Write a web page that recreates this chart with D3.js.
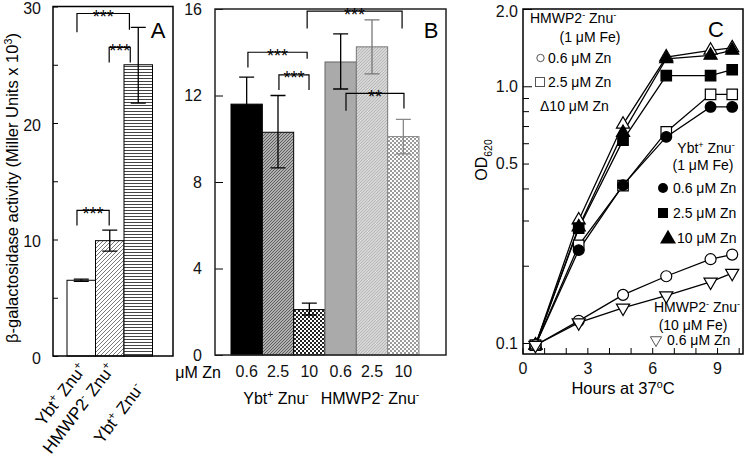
<!DOCTYPE html>
<html><head><meta charset="utf-8">
<script src="https://cdn.jsdelivr.net/npm/d3@7"></script>
<style>body{margin:0;background:#fff}svg{font-family:"Liberation Sans",Arial,sans-serif}</style>
</head><body>
<svg id="c" width="750" height="457"></svg>
<script>
// ---------------- DATA ----------------
// Panel A
const aCategories = [["Ybt","+"," Znu","+"],["HMWP2","-"," Znu","+"],["Ybt","+"," Znu","-"]];
const aValues = [6.5, 9.9, 25.0];
const aErrLow = [6.4, 9.0, 21.7];
const aErrHigh = [6.6, 10.8, 28.2];
const aTicks = [0, 5, 10, 15, 20, 25, 30];
const aTickLabels = [0, 10, 20, 30];
// brackets: x in bar units, y in data units
const aBrackets = [
  {x1:0.35, x2:1.48, top:12.5, l1:11.2, l2:11.2, label:"***"},
  {x1:1.48, x2:2.22, top:26.5, l1:25.2, l2:25.2, label:"***"},
  {x1:0.35, x2:2.19, top:29.4, l1:27.8, l2:28.0, label:"***"}
];
// Panel B
const bZn = ["0.6","2.5","10","0.6","2.5","10"];
const bGroups = [["Ybt","+"," Znu","-"],["HMWP2","-"," Znu","-"]];
const bValues = [11.6, 10.3, 2.1, 13.55, 14.25, 10.1];
const bErrLow = [10.35, 8.65, 1.85, 12.3, 13.0, 9.3];
const bErrHigh = [12.85, 12.0, 2.4, 14.85, 15.5, 10.9];
const bTicks = [0, 4, 8, 12, 16];
const bBrackets = [
  {x1:0.54, x2:2.43, top:14.0, l1:13.3, l2:13.7, label:"***"},
  {x1:1.53, x2:2.49, top:12.95, l1:12.25, l2:12.25, label:"***"},
  {x1:2.43, x2:5.46, top:15.9, l1:15.1, l2:15.1, label:"***"},
  {x1:3.67, x2:5.52, top:12.1, l1:11.3, l2:11.4, label:"**"}
];
// Panel C
const cHours = [0.6, 2.6, 4.65, 6.65, 8.7, 9.7];
const cHm1Zn06 = [0.098, 0.122, 0.154, 0.182, 0.212, 0.221];
const cHm1Zn25 = [0.098, 0.24, 0.41, 0.664, 0.93, 0.93];
const cHm1Zn10 = [0.098, 0.301, 0.711, 1.30, 1.38, 1.41];
const cYbtZn06 = [0.098, 0.23, 0.412, 0.635, 0.831, 0.831];
const cYbtZn25 = [0.098, 0.28, 0.617, 1.10, 1.10, 1.16];
const cYbtZn10 = [0.098, 0.283, 0.66, 1.28, 1.32, 1.38];
const cHm10Zn06 = [0.098, 0.12, 0.137, 0.153, 0.173, 0.187];
const cXTicks = [0,1,2,3,4,5,6,7,8,9,10];
const cXLabels = [0,3,6,9];
const cYTicks = [0.1,0.2,0.3,0.4,0.5,0.6,0.7,0.8,0.9,1.0,2.0];
const cYLabels = [0.1,0.5,1.0,2.0];

// ---------------- HELPERS ----------------
const svg = d3.select("#c");
function rich(t, parts, fs){
  let cur = 0;
  parts.forEach((p,i)=>{
    const k = (p==="+"||p==="-") ? "sup" : (typeof p==="object" ? p.k : "");
    const txt = typeof p==="object" ? p.t : p;
    const target = k==="sup" ? -fs*0.38 : k==="sub" ? fs*0.3 : 0;
    const ts = t.append("tspan").attr("dy", target-cur).text(txt);
    if(k) ts.attr("font-size", fs*0.65);
    cur = target;
  });
  return t;
}
const defs = svg.append("defs");
function pat(id, w, h, bg, draw){
  const p = defs.append("pattern").attr("id",id).attr("patternUnits","userSpaceOnUse").attr("width",w).attr("height",h);
  p.append("rect").attr("width",w).attr("height",h).attr("fill",bg);
  draw(p);
}
pat("hatchA",4,4,"#fff",p=>p.append("path").attr("d","M-1,1 l2,-2 M0,4 l4,-4 M3,5 l2,-2").attr("stroke","#555").attr("stroke-width",0.8));
pat("horizA",4,3,"#fff",p=>p.append("rect").attr("y",0).attr("width",4).attr("height",1).attr("fill","#444"));
pat("b2",3,3,"#b0b0b0",p=>p.append("path").attr("d","M-1,1 l2,-2 M0,3 l3,-3 M2,4 l2,-2").attr("stroke","#555").attr("stroke-width",0.9));
pat("b3",4,4,"#fff",p=>{p.append("rect").attr("width",2).attr("height",2).attr("fill","#222");p.append("rect").attr("x",2).attr("y",2).attr("width",2).attr("height",2).attr("fill","#222");});
pat("b5",3,3,"#d6d6d6",p=>p.append("path").attr("d","M-1,1 l2,-2 M0,3 l3,-3 M2,4 l2,-2").attr("stroke","#aaa").attr("stroke-width",0.7));
pat("b6",4,4,"#fff",p=>{p.append("rect").attr("width",2).attr("height",2).attr("fill","#9a9a9a");p.append("rect").attr("x",2).attr("y",2).attr("width",2).attr("height",2).attr("fill","#9a9a9a");});

function bracket(g, xs, ys, b, fs){
  const x1 = xs(b.x1), x2 = xs(b.x2);
  g.append("path").attr("d",`M${x1},${ys(b.l1)}V${ys(b.top)}H${x2}V${ys(b.l2)}`)
    .attr("fill","none").attr("stroke","#000").attr("stroke-width",1.2);
  g.append("text").attr("x",(x1+x2)/2).attr("y",ys(b.top)+fs*0.52).attr("text-anchor","middle")
    .attr("font-size",fs).text(b.label);
}
function errBar(g, x, lo, hi, w, col){
  g.append("path").attr("d",`M${x},${lo}V${hi}M${x-w/2},${lo}H${x+w/2}M${x-w/2},${hi}H${x+w/2}`)
    .attr("stroke",col).attr("stroke-width",1.3).attr("fill","none");
}
function styleAxis(g){ g.select(".domain").remove(); g.selectAll("text").attr("font-size",16).attr("font-family","Liberation Sans, Arial, sans-serif").attr("fill","#111"); g.selectAll("line").attr("stroke","#000"); }

// ---------------- PANEL A ----------------
const A = {l:53, r:173, b:356};
const yA = d3.scaleLinear().domain([0,30]).range([356,6.5]);
const xA = d3.scaleLinear().domain([0,3]).range([67,152.5]);
const gA = svg.append("g");
const aFills = ["#fff","url(#hatchA)","url(#horizA)"];
gA.selectAll("rect.bar").data(aValues).join("rect")
  .attr("x",(d,i)=>xA(i)).attr("width",xA(1)-xA(0)).attr("y",d=>yA(d)).attr("height",d=>yA(0)-yA(d))
  .attr("fill",(d,i)=>aFills[i]).attr("stroke","#000").attr("stroke-width",1);
aValues.forEach((d,i)=>errBar(gA, xA(i+0.5), yA(aErrLow[i]), yA(aErrHigh[i]), 15, "#000"));
gA.append("g").attr("transform",`translate(${A.l},0)`)
  .call(d3.axisLeft(yA).tickValues(aTicks).tickSize(-5).tickPadding(12).tickFormat(d=>aTickLabels.includes(d)?d:""))
  .call(styleAxis)
  .call(g=>g.selectAll(".tick text").attr("dy","0.45em"));
gA.append("rect").attr("x",A.l).attr("y",yA(30)).attr("width",A.r-A.l).attr("height",yA(0)-yA(30))
  .attr("fill","none").attr("stroke","#000").attr("stroke-width",1.5);
aBrackets.forEach(b=>bracket(gA,xA,yA,b,18));
gA.append("text").attr("x",158).attr("y",38).attr("text-anchor","middle").attr("font-size",22).text("A");
const aLabelDrop = [0, 0, 20];
aCategories.forEach((c,i)=>{
  const t = gA.append("text").attr("text-anchor","end").attr("font-size",17)
    .attr("transform",`translate(${xA(i+0.5)+6},${369+aLabelDrop[i]}) rotate(-53)`);
  rich(t,c,17);
});
const yl = gA.append("text").attr("transform","translate(18,188) rotate(-90)").attr("text-anchor","middle").attr("font-size",16.5);
rich(yl,["β-galactosidase activity (Miller Units x 10",{t:"3",k:"sup"},{t:")",k:""}],16.5);

// ---------------- PANEL B ----------------
const B = {l:215, r:446};
const yB = d3.scaleLinear().domain([0,16]).range([355,9]);
const xB = d3.scaleLinear().domain([0,6]).range([231,419]);
const gB = svg.append("g");
const bFills = ["#000","url(#b2)","url(#b3)","#aaaaaa","url(#b5)","url(#b6)"];
const bStroke = ["#000","#000","#000","#666","#777","#888"];
const bErrCol = ["#000","#000","#000","#000","#777","#888"];
gB.selectAll("rect.bar").data(bValues).join("rect")
  .attr("x",(d,i)=>xB(i)).attr("width",xB(1)-xB(0)).attr("y",d=>yB(d)).attr("height",d=>yB(0)-yB(d))
  .attr("fill",(d,i)=>bFills[i]).attr("stroke",(d,i)=>bStroke[i]).attr("stroke-width",1);
bValues.forEach((d,i)=>errBar(gB, xB(i+0.5), yB(bErrLow[i]), yB(bErrHigh[i]), 15, bErrCol[i]));
gB.append("g").attr("transform",`translate(${B.l},0)`)
  .call(d3.axisLeft(yB).tickValues(bTicks).tickSize(-8).tickPadding(13).tickFormat(d3.format("d")))
  .call(styleAxis);
gB.append("rect").attr("x",B.l).attr("y",yB(16)).attr("width",B.r-B.l).attr("height",yB(0)-yB(16))
  .attr("fill","none").attr("stroke","#222").attr("stroke-width",1.5);
const xBand = d3.scaleBand().domain(d3.range(bZn.length)).range([xB(0),xB(6)]);
gB.append("g").attr("transform","translate(0,355)")
  .call(d3.axisBottom(xBand).tickSize(0).tickPadding(11).tickFormat(i=>bZn[i]))
  .call(styleAxis);
gB.append("text").attr("x",221).attr("y",378).attr("text-anchor","end").attr("font-size",16).text("μM Zn");
bGroups.forEach((c,i)=>{
  const t = gB.append("text").attr("x",xB(i*3+1.5)-2).attr("y",404).attr("text-anchor","middle").attr("font-size",16);
  rich(t,c,16);
});
bBrackets.forEach(b=>bracket(gB,xB,yB,b,18));
gB.append("text").attr("x",431).attr("y",38).attr("text-anchor","middle").attr("font-size",22).text("B");

// ---------------- PANEL C ----------------
const C = {l:523, r:743};
const xC = d3.scaleLinear().domain([0,10.2]).range([522.5,743]);
const yC = d3.scaleLog().domain([0.1,2.0]).range([343,9]);
const gC = svg.append("g");
gC.append("g").attr("transform","translate(0,354)")
  .call(d3.axisBottom(xC).tickValues(cXTicks.filter(d=>d<10.2)).tickSize(-6).tickPadding(9).tickFormat(d=>cXLabels.includes(d)?d:""))
  .call(styleAxis);
gC.append("g").attr("transform",`translate(${C.l},0)`)
  .call(d3.axisLeft(yC).tickValues(cYTicks).tickSize(-6).tickPadding(5).tickFormat(d=>cYLabels.includes(d)?d3.format(".1f")(d):""))
  .call(styleAxis)
  .call(g=>g.selectAll(".tick").filter(d=>d===1||d===2).select("line").attr("x2",9))
  .call(g=>g.selectAll(".tick text").filter(d=>d===2).attr("dy","0.45em"));
gC.append("rect").attr("x",C.l).attr("y",9).attr("width",C.r-C.l).attr("height",354-9)
  .attr("fill","none").attr("stroke","#000").attr("stroke-width",1.5);
const series = [
  {v:cHm1Zn10, sym:d3.symbolTriangle, size:75, fill:"#fff", rot:0},
  {v:cYbtZn10, sym:d3.symbolTriangle, size:75, fill:"#000", rot:0},
  {v:cYbtZn25, sym:d3.symbolSquare, size:110, fill:"#000", rot:0},
  {v:cHm1Zn25, sym:d3.symbolSquare, size:110, fill:"#fff", rot:0},
  {v:cYbtZn06, sym:d3.symbolCircle, size:90, fill:"#000", rot:0},
  {v:cHm1Zn06, sym:d3.symbolCircle, size:95, fill:"#fff", rot:0},
  {v:cHm10Zn06, sym:d3.symbolTriangle, size:75, fill:"#fff", rot:180}
];
const line = d3.line().x((d,i)=>xC(cHours[i])).y(d=>yC(d));
series.forEach(s=>gC.append("path").attr("d",line(s.v)).attr("fill","none").attr("stroke","#000").attr("stroke-width",1.3));
series.forEach(s=>{
  gC.selectAll(null).data(s.v).join("path")
    .attr("d",d3.symbol().type(s.sym).size(s.size))
    .attr("transform",(d,i)=>`translate(${xC(cHours[i])},${yC(d)}) rotate(${s.rot})`)
    .attr("fill",s.fill).attr("stroke","#000").attr("stroke-width",1.2);
});
gC.append("text").attr("x",716).attr("y",37).attr("text-anchor","middle").attr("font-size",22).text("C");
// legends
const fsL = 14;
rich(gC.append("text").attr("x",530).attr("y",23).attr("font-size",fsL),["HMWP2","-"," Znu","-"],fsL);
gC.append("text").attr("x",590).attr("y",42).attr("text-anchor","middle").attr("font-size",fsL).text("(1 μM Fe)");
gC.append("circle").attr("cx",540.5).attr("cy",58).attr("r",3.7).attr("fill","#fff").attr("stroke","#555").attr("stroke-width",1);
gC.append("text").attr("x",548).attr("y",63).attr("font-size",fsL).text("0.6 μM Zn");
gC.append("rect").attr("x",535.5).attr("y",77.5).attr("width",9).attr("height",9).attr("fill","#fff").attr("stroke","#555").attr("stroke-width",1);
gC.append("text").attr("x",548).attr("y",87).attr("font-size",fsL).text("2.5 μM Zn");
gC.append("text").attr("x",540).attr("y",111).attr("font-size",fsL).text("Δ10 μM Zn");

rich(gC.append("text").attr("x",706).attr("y",153).attr("text-anchor","middle").attr("font-size",fsL),["Ybt","+"," Znu","-"],fsL);
gC.append("text").attr("x",703).attr("y",170).attr("text-anchor","middle").attr("font-size",fsL).text("(1 μM Fe)");
gC.append("circle").attr("cx",663).attr("cy",188).attr("r",5).attr("fill","#000");
gC.append("text").attr("x",673).attr("y",193).attr("font-size",fsL).text("0.6 μM Zn");
gC.append("rect").attr("x",658).attr("y",208).attr("width",10).attr("height",10).attr("fill","#000");
gC.append("text").attr("x",673).attr("y",218).attr("font-size",fsL).text("2.5 μM Zn");
gC.append("path").attr("d",d3.symbol().type(d3.symbolTriangle).size(110)).attr("transform","translate(668,239)").attr("fill","#000");
gC.append("text").attr("x",677).attr("y",243).attr("font-size",fsL).text("10 μM Zn");

rich(gC.append("text").attr("x",697).attr("y",312).attr("text-anchor","middle").attr("font-size",fsL),["HMWP2","-"," Znu","-"],fsL);
gC.append("text").attr("x",693).attr("y",330).attr("text-anchor","middle").attr("font-size",fsL).text("(10 μM Fe)");
gC.append("path").attr("d",d3.symbol().type(d3.symbolTriangle).size(55)).attr("transform","translate(656,340) rotate(180)").attr("fill","#fff").attr("stroke","#555").attr("stroke-width",1);
gC.append("text").attr("x",667).attr("y",345).attr("font-size",fsL).text("0.6 μM Zn");

const xl = gC.append("text").attr("x",623).attr("y",394).attr("text-anchor","middle").attr("font-size",16.5);
rich(xl,["Hours at 37",{t:"o",k:"sup"},{t:"C",k:""}],16.5);
const odl = gC.append("text").attr("transform","translate(487,160) rotate(-90)").attr("text-anchor","middle").attr("font-size",16);
rich(odl,["OD",{t:"620",k:"sub"}],16);
</script>
</body></html>
